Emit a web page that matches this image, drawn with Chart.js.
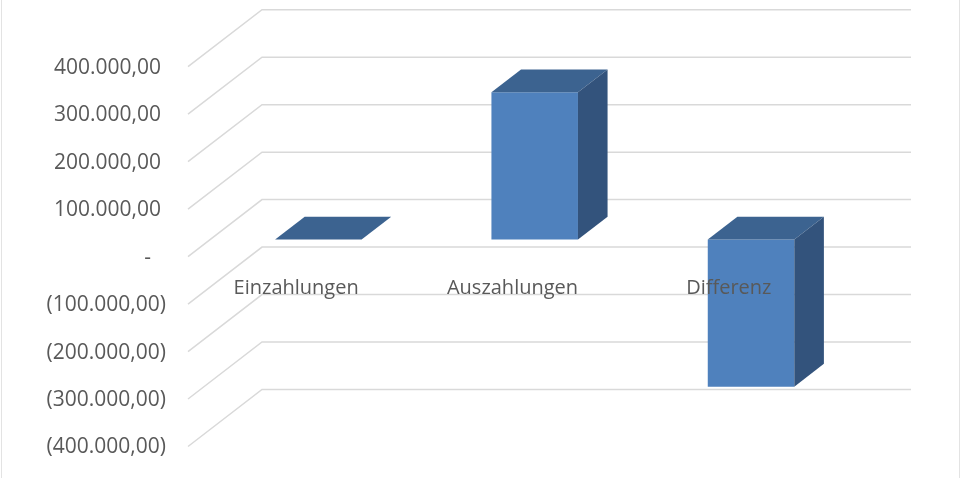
<!DOCTYPE html>
<html>
<head>
<meta charset="utf-8">
<script src="https://cdn.jsdelivr.net/npm/chart.js@4"></script>
<style>
  html, body { margin: 0; padding: 0; background: #fff; }
  canvas { display: block; }
</style>
</head>
<body>
<canvas id="barChart" width="961" height="478"></canvas>
<script>
// data
const categories = ['Einzahlungen', 'Auszahlungen', 'Differenz'];
const amounts = [0, 310000, -310000];
const tickMin = -400000;
const tickMax = 400000;
const tickStep = 100000;

// 3d look: full depth of the box and where the bars sit in it
const DEPTH_X = 74, DEPTH_Y = -57;
const BAR_FRONT = 0.3, BAR_DEPTH = 0.4;
const gridColor = '#d9d9d9';
const textColor = '#595959';

// accounting style: 400.000,00 / (400.000,00) / -
function formatAmount(v) {
    if (v === 0) return '-';
    const parts = Math.abs(v).toFixed(2).split('.');
    const whole = parts[0].replace(/\B(?=(\d{3})+(?!\d))/g, '.');
    const s = whole + ',' + parts[1];
    return v < 0 ? '(' + s + ')' : s;
}

const box3d = {
    id: 'box3d',
    beforeDatasetsDraw(chart) {
        const ctx = chart.ctx;
        const y = chart.scales.y;
        const area = chart.chartArea;
        ctx.save();
        ctx.strokeStyle = gridColor;
        ctx.lineWidth = 1.5;
        y.ticks.forEach(t => {
            const py = y.getPixelForValue(t.value);
            ctx.beginPath();
            ctx.moveTo(area.left, py);
            ctx.lineTo(area.left + DEPTH_X, py + DEPTH_Y);
            ctx.lineTo(area.right + DEPTH_X, py + DEPTH_Y);
            ctx.stroke();
        });
        ctx.restore();
        // push the bars back into the box
        ctx.save();
        ctx.translate(DEPTH_X * BAR_FRONT, DEPTH_Y * BAR_FRONT);
    },
    afterDatasetsDraw(chart) {
        const ctx = chart.ctx;
        const dx = DEPTH_X * BAR_DEPTH, dy = DEPTH_Y * BAR_DEPTH;
        chart.getDatasetMeta(0).data.forEach(bar => {
            const l = bar.x - bar.width / 2, r = bar.x + bar.width / 2;
            const top = Math.min(bar.y, bar.base), bottom = Math.max(bar.y, bar.base);
            ctx.fillStyle = '#3c6390';
            ctx.beginPath();
            ctx.moveTo(l, top);
            ctx.lineTo(r, top);
            ctx.lineTo(r + dx, top + dy);
            ctx.lineTo(l + dx, top + dy);
            ctx.closePath();
            ctx.fill();
            if (bottom - top > 0.5) {
                ctx.fillStyle = '#33537c';
                ctx.beginPath();
                ctx.moveTo(r, top);
                ctx.lineTo(r + dx, top + dy);
                ctx.lineTo(r + dx, bottom + dy);
                ctx.lineTo(r, bottom);
                ctx.closePath();
                ctx.fill();
            }
        });
        ctx.restore();
    },
    afterDraw(chart) {
        const ctx = chart.ctx;
        const x = chart.scales.x;
        const y = chart.scales.y;
        const zero = y.getPixelForValue(0);
        ctx.save();
        ctx.fillStyle = textColor;

        // value axis labels, on the front edge of the side wall
        ctx.font = '21px "Open Sans"';
        ctx.textAlign = 'right';
        ctx.textBaseline = 'middle';
        y.ticks.forEach(t => {
            const right = t.value < 0 ? 166 : (t.value > 0 ? 161 : 151);
            ctx.fillText(formatAmount(t.value), right, y.getPixelForValue(t.value) + 1);
        });

        // category labels sit just under the zero line
        ctx.font = '20px "Open Sans"';
        ctx.textAlign = 'center';
        ctx.textBaseline = 'alphabetic';
        categories.forEach((c, i) => {
            ctx.fillText(c, x.getPixelForValue(i), zero + 37);
        });

        // outer frame
        ctx.strokeStyle = '#e3e3e3';
        ctx.lineWidth = 1;
        ctx.beginPath();
        ctx.moveTo(1.5, 0); ctx.lineTo(1.5, 478);
        ctx.moveTo(959.5, 0); ctx.lineTo(959.5, 478);
        ctx.stroke();
        ctx.restore();
    }
};

const ctx = document.getElementById('barChart');
new Chart(ctx, {
    type: 'bar',
    data: {
        labels: categories,
        datasets: [{
            data: amounts,
            backgroundColor: '#4f81bd',
            borderWidth: 0,
            categoryPercentage: 1,
            barPercentage: 0.4
        }]
    },
    options: {
        responsive: false,
        animation: false,
        layout: { padding: { left: 0, right: 124, top: 66.7, bottom: 31.5 } },
        plugins: { legend: { display: false }, tooltip: { enabled: false } },
        scales: {
            x: { display: false },
            y: {
                min: tickMin,
                max: tickMax,
                grid: { display: false },
                border: { display: false },
                afterFit: s => { s.width = 188; },
                ticks: { stepSize: tickStep, display: false }
            }
        }
    },
    plugins: [box3d]
});
</script>
</body>
</html>
